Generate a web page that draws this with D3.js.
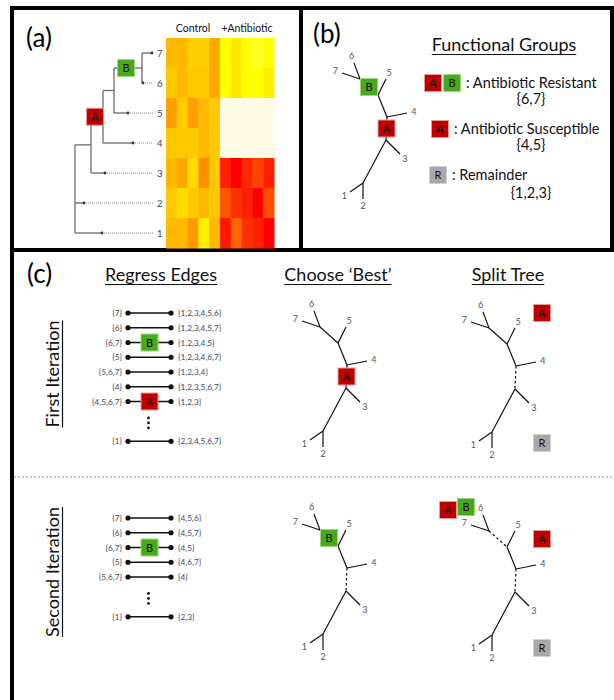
<!DOCTYPE html>
<html>
<head>
<meta charset="utf-8">
<script src="https://cdn.jsdelivr.net/npm/d3@7"></script>
<style>
body { margin:0; background:#fff; }
svg { display:block; font-family: Lato, "Open Sans", sans-serif; }
</style>
</head>
<body>
<svg id="fig" width="614" height="700"></svg>
<script>
// ---------- data ----------
var strains = [7, 6, 5, 4, 3, 2, 1];
var heatTitles = ["Control", "+Antibiotic"];
// growth (0 = red, 0.8 = yellow, 1 = pale)
var controlGrowth = [
  [0.58, 0.58, 0.65, 0.65, 0.53],
  [0.63, 0.58, 0.63, 0.63, 0.53],
  [0.50, 0.64, 0.50, 0.59, 0.63],
  [0.63, 0.63, 0.63, 0.58, 0.63],
  [0.58, 0.52, 0.69, 0.45, 0.63],
  [0.63, 0.69, 0.63, 0.58, 0.63],
  [0.58, 0.58, 0.48, 0.75, 0.58]
];
var antibioticGrowth = [
  [0.80, 0.73, 0.80, 0.83, 0.80],
  [0.80, 0.73, 0.80, 0.80, 0.75],
  [1, 1, 1, 1, 1],
  [1, 1, 1, 1, 1],
  [0.10, 0.00, 0.13, 0.21, 0.10],
  [0.27, 0.15, 0.10, 0.00, 0.25],
  [0.08, 0.32, 0.15, 0.10, 0.00]
];
// dendrogram branch lengths
var dendro = {name:"root", len:0, children:[
  {name:"x", len:16, children:[
    {name:"A", len:12, children:[
      {name:"n5B", len:11, children:[
        {name:"B", len:28, children:[{name:"7", len:10}, {name:"6", len:1}]},
        {name:"5", len:14}
      ]},
      {name:"4", len:30}
    ]},
    {name:"3", len:14}
  ]},
  {name:"2", len:9},
  {name:"1", len:27}
]};

// unrooted tree (units relative to the 6/7 node)
var treeNodes = [
  {id:"n67", x:0, y:0}, {id:"6", x:-6, y:-16}, {id:"7", x:-18, y:-6},
  {id:"n5", x:18, y:16}, {id:"5", x:26, y:0},
  {id:"n4", x:27, y:38}, {id:"4", x:47, y:34},
  {id:"n3", x:26, y:61}, {id:"3", x:40, y:75},
  {id:"n12", x:3, y:104}, {id:"1", x:-10, y:113}, {id:"2", x:3, y:120}
];
var treeEdges = [["n67","6"],["n67","7"],["n67","n5"],["n5","5"],["n5","n4"],
  ["n4","4"],["n4","n3"],["n3","3"],["n3","n12"],["n12","1"],["n12","2"]];

var groupBoxes = [["A","B"], ["A"], ["R"]];
var groupNames = ["Antibiotic Resistant", "Antibiotic Susceptible", "Remainder"];
var groupMembers = ["{6,7}", "{4,5}", "{1,2,3}"];

var iter1Left  = ["{7}","{6}","{6,7}","{5}","{5,6,7}","{4}","{4,5,6,7}","{1}"];
var iter1Right = ["{1,2,3,4,5,6}","{1,2,3,4,5,7}","{1,2,3,4,5}","{1,2,3,4,6,7}","{1,2,3,4}","{1,2,3,5,6,7}","{1,2,3}","{2,3,4,5,6,7}"];
var iter1Cut   = [null,null,"B",null,null,null,"A",null];
var iter2Left  = ["{7}","{6}","{6,7}","{5}","{5,6,7}","{1}"];
var iter2Right = ["{4,5,6}","{4,5,7}","{4,5}","{4,6,7}","{4}","{2,3}"];
var iter2Cut   = [null,null,"B",null,null,null];

var boxFill = {A:"#c00000", B:"#47a91b", R:"#aba7a7"};
var boxEdge = {A:"#e79a9a", B:"#9fd87a", R:"#d2d0d0"};

var svg = d3.select("#fig");

function box(cx, cy, g) {
  svg.append("rect").attr("x", cx - 8.5).attr("y", cy - 8.5)
    .attr("width", 17).attr("height", 17)
    .attr("fill", boxFill[g]).attr("stroke", boxEdge[g]).attr("stroke-width", 1);
  svg.append("text").attr("x", cx).attr("y", cy + 4)
    .attr("text-anchor", "middle").attr("font-size", 11).attr("fill", "#111").text(g);
}

function heading(txt, cx, y) {
  var t = svg.append("text").attr("x", cx).attr("y", y).attr("text-anchor", "middle")
    .attr("font-size", 18).attr("fill", "#111").text(txt);
  var w = t.node().getComputedTextLength();
  svg.append("line").attr("x1", cx - w/2).attr("x2", cx + w/2)
    .attr("y1", y + 3.5).attr("y2", y + 3.5).attr("stroke", "#111").attr("stroke-width", 1.2);
}

// ---------- frame ----------
var frame = svg.append("g").attr("stroke", "#000").attr("stroke-width", 4);
frame.append("line").attr("x1", 10).attr("x2", 614).attr("y1", 8).attr("y2", 8);
frame.append("line").attr("x1", 12).attr("x2", 12).attr("y1", 6).attr("y2", 700);
frame.append("line").attr("x1", 301).attr("x2", 301).attr("y1", 6).attr("y2", 251);
frame.append("line").attr("x1", 612).attr("x2", 612).attr("y1", 6).attr("y2", 251);
frame.append("line").attr("x1", 10).attr("x2", 614).attr("y1", 250).attr("y2", 250);

svg.append("line").attr("x1", 14).attr("x2", 614).attr("y1", 477).attr("y2", 477)
  .attr("stroke", "#8a8a8a").attr("stroke-dasharray", "2,2").attr("stroke-width", 1);

svg.append("text").attr("x", 26).attr("y", 47).attr("font-size", 26).text("(a)");
svg.append("text").attr("x", 313).attr("y", 43).attr("font-size", 26).text("(b)");
svg.append("text").attr("x", 27).attr("y", 283).attr("font-size", 26).text("(c)");

// ---------- (a) heatmap ----------
var yStrain = d3.scaleBand().domain(strains).range([38, 248]);
var xCol = d3.scaleBand().domain(d3.range(10)).range([166, 274]);
var heat = d3.scaleLinear().domain([0, 0.8, 1]).range(["#ff0000", "#ffff00", "#fffbe6"]).clamp(true);

var cells = [];
strains.forEach(function(s, i) {
  controlGrowth[i].forEach(function(v, j) { cells.push({s:s, c:j, v:v}); });
  antibioticGrowth[i].forEach(function(v, j) { cells.push({s:s, c:j + 5, v:v}); });
});
svg.append("g").selectAll("rect").data(cells).enter().append("rect")
  .attr("x", function(d) { return xCol(d.c); })
  .attr("y", function(d) { return yStrain(d.s); })
  .attr("width", xCol.bandwidth() + 0.5)
  .attr("height", yStrain.bandwidth() + 0.5)
  .attr("fill", function(d) { return heat(d.v); });

svg.selectAll("text.ht").data(heatTitles).enter().append("text")
  .attr("x", function(d, i) { return (xCol(i * 5) + xCol(i * 5 + 4) + xCol.bandwidth()) / 2; })
  .attr("y", 32).attr("text-anchor", "middle").attr("font-size", 10.5).attr("fill", "#111")
  .text(function(d) { return d; });

svg.selectAll("text.rl").data(strains).enter().append("text")
  .attr("x", 157).attr("y", function(d) { return yStrain(d) + yStrain.bandwidth()/2 + 3.5; })
  .attr("font-size", 9.5).attr("fill", "#444").text(function(d) { return d; });

// ---------- (a) dendrogram ----------
var root = d3.hierarchy(dendro);
root.each(function(n) { n.dist = n.parent ? n.parent.dist + n.data.len : 0; });
var maxDist = d3.max(root.leaves(), function(n) { return n.dist; });
var xDist = d3.scaleLinear().domain([0, maxDist]).range([75, 152]);
root.eachAfter(function(n) {
  if (n.children) {
    var ys = n.children.map(function(c) { return c.y; });
    n.ymin = d3.min(ys); n.ymax = d3.max(ys);
    n.y = (n.children[0].y + n.children[n.children.length > 2 ? 0 : 1].y) / 2;
  } else {
    n.y = yStrain(+n.data.name) + yStrain.bandwidth() / 2;
  }
});
var dg = svg.append("g").attr("stroke", "#6a6a6a").attr("stroke-width", 1.3).attr("fill", "none");
root.descendants().forEach(function(n) {
  if (n.parent) {
    dg.append("line").attr("x1", xDist(n.parent.dist)).attr("x2", xDist(n.dist))
      .attr("y1", n.y).attr("y2", n.y);
  }
  if (n.children) {
    dg.append("line").attr("x1", xDist(n.dist)).attr("x2", xDist(n.dist))
      .attr("y1", n.ymin).attr("y2", n.ymax);
  } else {
    dg.append("line").attr("x1", xDist(n.dist)).attr("x2", xDist(maxDist) + 1)
      .attr("y1", n.y).attr("y2", n.y).attr("stroke", "#888").attr("stroke-width", 1)
      .attr("stroke-dasharray", "1,1");
    svg.append("circle").attr("cx", xDist(n.dist)).attr("cy", n.y).attr("r", 1.4).attr("fill", "#333");
  }
});
root.descendants().filter(function(n) { return n.data.name === "A" || n.data.name === "B"; })
  .forEach(function(n) {
    box((xDist(n.parent.dist) + xDist(n.dist)) / 2 - 2, n.y, n.data.name);
  });

// ---------- unrooted tree drawing ----------
var nodeById = {};
treeNodes.forEach(function(n) { nodeById[n.id] = n; });

function drawTree(ox, oy, dashed, edgeBoxes) {
  var sx = d3.scaleLinear().domain([0, 1]).range([ox, ox + 1]);
  var sy = d3.scaleLinear().domain([0, 1]).range([oy, oy + 1]);
  var g = svg.append("g");
  treeEdges.forEach(function(e) {
    var a = nodeById[e[0]], b = nodeById[e[1]];
    var isDash = dashed.some(function(d) { return d[0] === e[0] && d[1] === e[1]; });
    g.append("line").attr("x1", sx(a.x)).attr("y1", sy(a.y)).attr("x2", sx(b.x)).attr("y2", sy(b.y))
      .attr("stroke", "#111").attr("stroke-width", 1.2)
      .attr("stroke-dasharray", isDash ? "2.5,2.5" : null);
    if (!isNaN(+b.id)) {
      var dx = b.x - a.x, dy = b.y - a.y, L = Math.sqrt(dx*dx + dy*dy);
      g.append("text").attr("x", sx(b.x + dx / L * 7)).attr("y", sy(b.y + dy / L * 7) + 3)
        .attr("text-anchor", "middle").attr("font-size", 9).attr("fill", "#555").text(b.id);
    }
  });
  edgeBoxes.forEach(function(eb) {
    var a = nodeById[eb.edge[0]], b = nodeById[eb.edge[1]];
    box(sx((a.x + b.x) / 2), sy((a.y + b.y) / 2), eb.g);
  });
  return {sx:sx, sy:sy};
}

// (b)
drawTree(360, 79, [], [{g:"B", edge:["n67","n5"]}, {g:"A", edge:["n4","n3"]}]);
heading("Functional Groups", 504, 51);
var legendY = d3.scaleLinear().domain([0, 1]).range([83, 129]);
groupNames.forEach(function(name, i) {
  var y = legendY(i);
  var bx = 433 + (i === 1 ? 7 : i === 2 ? 5 : 0);
  groupBoxes[i].forEach(function(g, j) { box(bx + j * 19, y, g); });
  var tx = bx + groupBoxes[i].length * 19 - 5;
  svg.append("text").attr("x", tx).attr("y", y + 5).attr("font-size", 14.5).attr("fill", "#111")
    .text(": " + name);
  svg.append("text").attr("x", 531).attr("y", y + 21 + (i === 2 ? 2 : 0)).attr("text-anchor", "middle")
    .attr("font-size", 14.5).attr("fill", "#111").text(groupMembers[i]);
});

// (c) headings
heading("Regress Edges", 161, 281);
heading("Choose \u2018Best\u2019", 338, 281);
heading("Split Tree", 508, 281);

function sideHeading(txt, x, cy) {
  var g = svg.append("g").attr("transform", "translate(" + x + "," + cy + ") rotate(-90)");
  var t = g.append("text").attr("text-anchor", "middle").attr("font-size", 18).attr("fill", "#111").text(txt);
  var w = t.node().getComputedTextLength();
  g.append("line").attr("x1", -w/2).attr("x2", w/2).attr("y1", 3.5).attr("y2", 3.5)
    .attr("stroke", "#111").attr("stroke-width", 1.2);
}
sideHeading("First Iteration", 59, 374);
sideHeading("Second Iteration", 59, 572);

// regress edge lists
function edgeList(left, right, cut, y0) {
  var nMain = left.length - 1;
  var yRow = d3.scaleLinear().domain([0, 1]).range([y0, y0 + 14.75]);
  var xL = 128, xR = 171;
  left.forEach(function(lab, i) {
    var y = i < nMain ? yRow(i) : yRow(nMain - 1 + 2.7);
    svg.append("line").attr("x1", xL).attr("x2", xR).attr("y1", y).attr("y2", y)
      .attr("stroke", "#111").attr("stroke-width", 1.5);
    svg.append("circle").attr("cx", xL).attr("cy", y).attr("r", 2.6).attr("fill", "#111");
    svg.append("circle").attr("cx", xR).attr("cy", y).attr("r", 2.6).attr("fill", "#111");
    svg.append("text").attr("x", 122).attr("y", y + 3).attr("text-anchor", "end")
      .attr("font-size", 8.3).attr("fill", "#4a4a58").text(lab);
    svg.append("text").attr("x", 178).attr("y", y + 3)
      .attr("font-size", 8.3).attr("fill", "#4a4a58").text(right[i]);
    if (cut[i]) box((xL + xR) / 2, y, cut[i]);
  });
  var yd = yRow(nMain - 1 + 1.45);
  [-5, 0, 5].forEach(function(d) {
    svg.append("circle").attr("cx", 148.5).attr("cy", yd + d).attr("r", 1.4).attr("fill", "#111");
  });
}
edgeList(iter1Left, iter1Right, iter1Cut, 313);
edgeList(iter2Left, iter2Right, iter2Cut, 518);

// trees in (c)
drawTree(320, 327, [], [{g:"A", edge:["n4","n3"]}]);
var t1 = drawTree(489, 328, [["n4","n3"]], []);
box(t1.sx(53), t1.sy(-15), "A");
box(t1.sx(53), t1.sy(115), "R");

drawTree(320, 530, [["n4","n3"]], [{g:"B", edge:["n67","n5"]}]);
var t2 = drawTree(489, 531, [["n67","n5"], ["n4","n3"]], []);
box(t2.sx(-41), t2.sy(-21), "A");
box(t2.sx(-23), t2.sy(-24), "B");
box(t2.sx(53), t2.sy(8), "A");
box(t2.sx(53), t2.sy(117), "R");
</script>
</body>
</html>
